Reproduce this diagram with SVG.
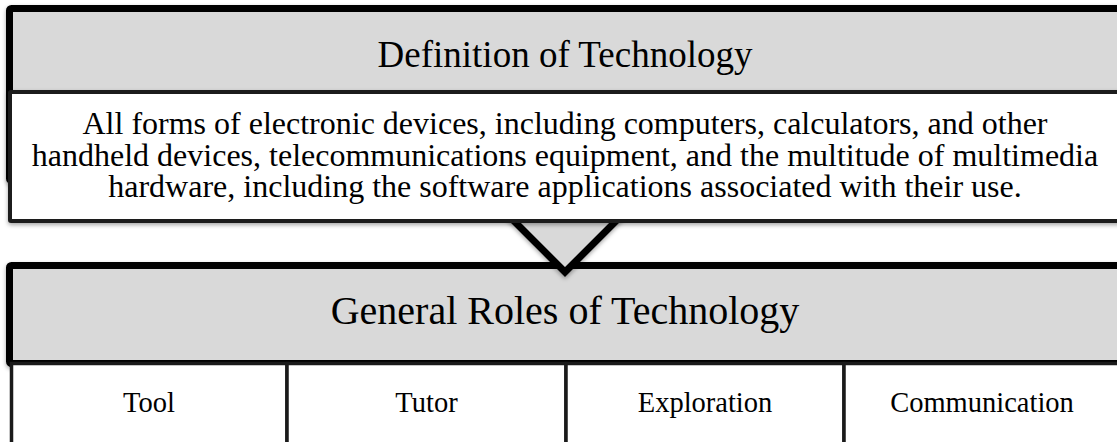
<svg xmlns="http://www.w3.org/2000/svg" width="1117" height="442" viewBox="0 0 1117 442">
<style>
.hdr{fill:#d9d9d9;stroke:#000;stroke-width:7;filter:url(#sh)}
.body{fill:#fff;stroke:#1e1e1e;stroke-width:4;filter:url(#sh)}
.cell{fill:#fff;stroke:#1a1a1a;stroke-width:3.5}
.t{font-family:"Liberation Serif","Times New Roman",serif;fill:#000;text-anchor:middle}
.conn{fill:#d9d9d9;stroke:#000;stroke-width:7;stroke-linejoin:miter;filter:url(#sh)}
</style>
<defs>
<filter id="sh" x="-5%" y="-5%" width="110%" height="120%">
<feDropShadow dx="0" dy="2" stdDeviation="2" flood-color="#000" flood-opacity="0.35"/>
</filter>
</defs>
<rect width="1117" height="442" fill="#fff"/>
<g id="definition-header">
<rect class="hdr" x="9.5" y="8.5" width="1200" height="172" rx="2"/>
<text class="t" x="565" y="67" font-size="37">Definition of Technology</text>
</g>
<g id="roles-header">
<rect class="hdr" x="9.5" y="265.5" width="1200" height="98" rx="2"/>
<text class="t" x="565" y="324" font-size="40">General Roles of Technology</text>
</g>
<g id="connectors">
<polygon class="conn" points="478,185 652,185 565,272"/>
</g>
<g id="definition-body">
<rect class="body" x="10" y="92" width="1200" height="129" rx="1"/>
<text class="t" font-size="32"><tspan x="565" y="134">All forms of electronic devices, including computers, calculators, and other</tspan><tspan x="565" y="165.5">handheld devices, telecommunications equipment, and the multitude of multimedia</tspan><tspan x="565" y="197">hardware, including the software applications associated with their use.</tspan></text>
</g>
<g id="tool">
<rect class="cell" x="11.5" y="363.5" width="275.5" height="100"/>
<text class="t" x="149" y="412" font-size="28.5">Tool</text>
</g>
<g id="tutor">
<rect class="cell" x="287" y="363.5" width="279" height="100"/>
<text class="t" x="426.5" y="412" font-size="28.5">Tutor</text>
</g>
<g id="exploration">
<rect class="cell" x="566" y="363.5" width="278" height="100"/>
<text class="t" x="705" y="412" font-size="28.5">Exploration</text>
</g>
<g id="communication">
<rect class="cell" x="844" y="363.5" width="300" height="100"/>
<text class="t" x="982" y="412" font-size="28.5">Communication</text>
</g>
</svg>
